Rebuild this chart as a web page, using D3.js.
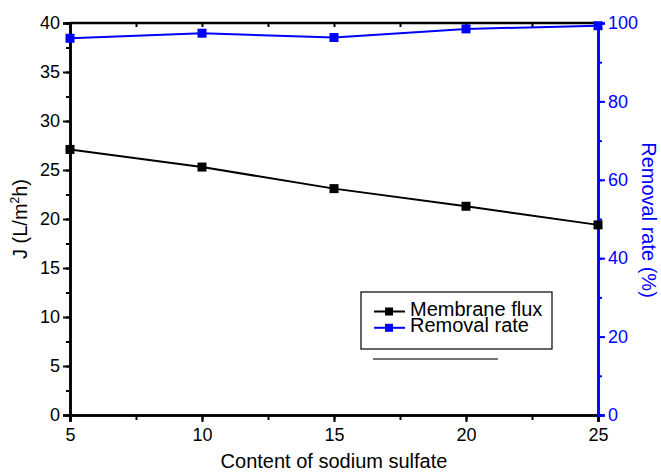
<!DOCTYPE html>
<html>
<head>
<meta charset="utf-8">
<script src="https://cdn.jsdelivr.net/npm/d3@7"></script>
<style>
  body { margin: 0; background: #fff; }
  svg { font-family: "Liberation Sans", Arial, sans-serif; }
</style>
</head>
<body>
<svg width="661" height="472"></svg>
<script>
// Data
const sodiumContent = [5, 10, 15, 20, 25];
const membraneFlux = [27.1, 25.3, 23.1, 21.3, 19.4];
const removalRate = [96.1, 97.4, 96.3, 98.5, 99.3];

const xTicks = [5, 10, 15, 20, 25];
const leftTicks = [0, 5, 10, 15, 20, 25, 30, 35, 40];
const rightTicks = [0, 20, 40, 60, 80, 100];

const svg = d3.select("svg");
const blue = "#0000ff";

//Plot area
const plotLeft = 70, plotRight = 598, plotTop = 23, plotBottom = 415;

const x = d3.scaleLinear().domain([5, 25]).range([plotLeft, plotRight]);
const yLeft = d3.scaleLinear().domain([0, 40]).range([plotBottom, plotTop]);
const yRight = d3.scaleLinear().domain([0, 100]).range([plotBottom, plotTop]);

const minorX = d3.range(5, 25.01, 2.5);
const minorLeft = d3.range(0, 40.01, 2.5);
const minorRight = d3.range(0, 100.01, 10);

//Bottom axis
const bottomAxis = svg.append("g")
    .attr("transform", `translate(0, ${plotBottom})`)
    .call(d3.axisBottom(x).tickValues(minorX).tickSize(5).tickFormat(""));
bottomAxis.append("g")
    .call(d3.axisBottom(x).tickValues(xTicks).tickSize(7).tickPadding(6).tickFormat(d3.format("d")));

//Top axis, ticks pointing inward
svg.append("g")
    .attr("transform", `translate(0, ${plotTop})`)
    .call(d3.axisBottom(x).tickValues(minorX).tickSize(4).tickFormat(""))
    .call(g => g.select(".domain").remove());
svg.append("line")
    .attr("x1", plotLeft).attr("x2", plotRight)
    .attr("y1", plotTop).attr("y2", plotTop)
    .attr("stroke", "black").attr("stroke-width", 2.5);

//Left axis
const leftAxis = svg.append("g")
    .attr("transform", `translate(${plotLeft}, 0)`)
    .call(d3.axisLeft(yLeft).tickValues(minorLeft).tickSize(4).tickFormat(""));
leftAxis.append("g")
    .call(d3.axisLeft(yLeft).tickValues(leftTicks).tickSize(7).tickPadding(3));

//Right axis in blue
const rightAxis = svg.append("g")
    .attr("transform", `translate(${plotRight}, 0)`)
    .call(d3.axisRight(yRight).tickValues(minorRight).tickSize(4).tickFormat(""));
rightAxis.append("g")
    .call(d3.axisRight(yRight).tickValues(rightTicks).tickSize(7).tickPadding(3));
rightAxis.selectAll("line, path").attr("stroke", blue);
rightAxis.selectAll("text").attr("fill", blue);

svg.selectAll(".domain").attr("stroke-width", 2.5);
svg.selectAll(".tick line").attr("stroke-width", 2);
svg.selectAll(".tick text").attr("font-size", "18px").attr("font-family", "Liberation Sans, Arial, sans-serif");

//Axis titles
svg.append("text")
    .attr("x", (plotLeft + plotRight) / 2)
    .attr("y", 468)
    .attr("text-anchor", "middle")
    .attr("font-size", "20px")
    .text("Content of sodium sulfate");

const yTitle = svg.append("text")
    .attr("transform", "translate(27, 219) rotate(-90)")
    .attr("text-anchor", "middle")
    .attr("font-size", "20px");
yTitle.append("tspan").text("J (L/m");
yTitle.append("tspan").attr("font-size", "12px").attr("dy", -8).text("2");
yTitle.append("tspan").attr("dy", 8).text("h)");

svg.append("text")
    .attr("transform", "translate(642, 220) rotate(90)")
    .attr("text-anchor", "middle")
    .attr("font-size", "20px")
    .attr("fill", blue)
    .text("Removal rate (%)");

//Series
const series = [
    { name: "Membrane flux", values: membraneFlux, y: yLeft, color: "black" },
    { name: "Removal rate", values: removalRate, y: yRight, color: blue }
];

series.forEach(s => {
    const pts = sodiumContent.map((c, i) => [x(c), s.y(s.values[i])]);
    svg.append("path")
        .attr("d", d3.line()(pts))
        .attr("fill", "none")
        .attr("stroke", s.color)
        .attr("stroke-width", 2);
    svg.selectAll(null)
        .data(pts)
        .enter()
        .append("rect")
        .attr("x", d => d[0] - 4.5)
        .attr("y", d => d[1] - 4.5)
        .attr("width", 9)
        .attr("height", 9)
        .attr("fill", s.color);
});

//Legend
const legend = svg.append("g");
legend.append("line")
    .attr("x1", 373).attr("x2", 498)
    .attr("y1", 359).attr("y2", 359)
    .attr("stroke", "#444").attr("stroke-width", 1.5);
legend.append("rect")
    .attr("x", 361).attr("y", 292)
    .attr("width", 191).attr("height", 57)
    .attr("fill", "white")
    .attr("stroke", "black")
    .attr("stroke-width", 1.2);

const legendRow = legend.selectAll(".row")
    .data(series)
    .enter()
    .append("g")
    .attr("class", "row")
    .attr("transform", (d, i) => `translate(0, ${311.5 + i * 16.3})`);
legendRow.append("line")
    .attr("x1", 374).attr("x2", 405)
    .attr("stroke", d => d.color)
    .attr("stroke-width", 2);
legendRow.append("rect")
    .attr("x", 385).attr("y", -4)
    .attr("width", 8).attr("height", 8)
    .attr("fill", d => d.color);
legendRow.append("text")
    .attr("x", 410)
    .attr("y", 4.5)
    .attr("font-size", "20px")
    .text(d => d.name);
</script>
</body>
</html>
